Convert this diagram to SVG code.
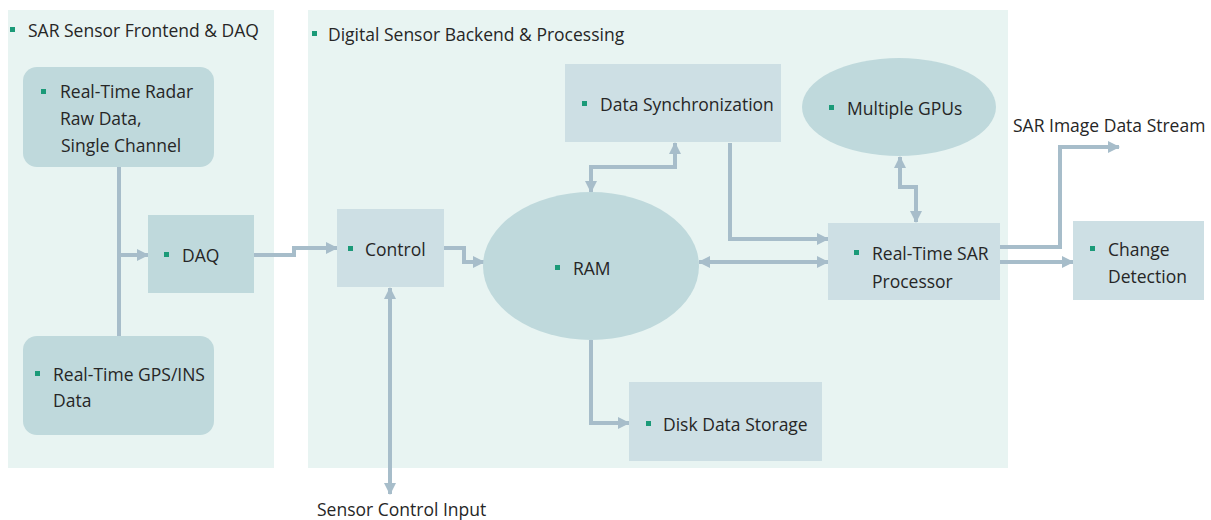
<svg xmlns="http://www.w3.org/2000/svg" width="1211" height="520" viewBox="0 0 1211 520">
  <defs>
    <style>
      .grp { fill: #e8f4f2; }
      .soft { fill: #bfd9dc; }
      .cool { fill: #cddfe4; }
      .lbl { font-family: "Open Sans", "Noto Sans", sans-serif; font-size: 17.5px; fill: #262626; }
      .dot { fill: #1b9a78; }
      .wire { fill: none; stroke: #a7bdca; stroke-width: 4; stroke-linejoin: miter; }
    </style>
    <marker id="head" viewBox="0 0 12 12" refX="11" refY="6" markerWidth="12" markerHeight="12" markerUnits="userSpaceOnUse" orient="auto-start-reverse">
      <path d="M0,0 L12,6 L0,12 Z" fill="#a7bdca"/>
    </marker>
  </defs>

  <rect width="1211" height="520" fill="#ffffff"/>

  <!-- group panels -->
  <g id="group-frontend">
    <rect class="grp" x="8" y="10" width="266" height="458"/>
    <rect class="dot" x="10" y="27" width="5" height="5"/>
    <text class="lbl" x="28" y="37">SAR Sensor Frontend &amp; DAQ</text>
  </g>
  <g id="group-backend">
    <rect class="grp" x="308" y="10" width="700" height="458"/>
    <rect class="dot" x="312" y="31" width="5" height="5"/>
    <text class="lbl" x="328" y="41">Digital Sensor Backend &amp; Processing</text>
  </g>

  <!-- connectors -->
  <g id="connectors">
    <path class="wire" d="M119,167 V336"/>
    <path class="wire" d="M119,255 H148" marker-end="url(#head)"/>
    <path class="wire" d="M254,255 H294 V248 H337" marker-end="url(#head)"/>
    <path class="wire" d="M444,248 H464 V262 H484" marker-end="url(#head)"/>
    <path class="wire" d="M390,288 V494" marker-start="url(#head)" marker-end="url(#head)"/>
    <path class="wire" d="M591,192 V167 H675 V143" marker-start="url(#head)" marker-end="url(#head)"/>
    <path class="wire" d="M730,143 V239 H828" marker-end="url(#head)"/>
    <path class="wire" d="M699,262 H828" marker-start="url(#head)" marker-end="url(#head)"/>
    <path class="wire" d="M900,157 V187 H916 V222" marker-start="url(#head)" marker-end="url(#head)"/>
    <path class="wire" d="M1000,247 H1060 V147 H1119" marker-end="url(#head)"/>
    <path class="wire" d="M1000,262 H1073" marker-end="url(#head)"/>
    <path class="wire" d="M591,340 V423 H629" marker-end="url(#head)"/>
  </g>

  <!-- nodes -->
  <g id="radar">
    <rect class="soft" x="23" y="67" width="191" height="100" rx="14"/>
    <rect class="dot" x="41" y="89" width="5" height="5"/>
    <text class="lbl" x="60" y="98">Real-Time Radar</text>
    <text class="lbl" x="60" y="125">Raw Data,</text>
    <text class="lbl" x="61" y="152">Single Channel</text>
  </g>
  <g id="gps">
    <rect class="soft" x="23" y="336" width="191" height="99" rx="14"/>
    <rect class="dot" x="35" y="371" width="5" height="5"/>
    <text class="lbl" x="53" y="381">Real-Time GPS/INS</text>
    <text class="lbl" x="53" y="407">Data</text>
  </g>
  <g id="daq">
    <rect class="soft" x="148" y="215" width="106" height="78"/>
    <rect class="dot" x="164" y="252" width="5" height="5"/>
    <text class="lbl" x="182" y="262">DAQ</text>
  </g>
  <g id="control">
    <rect class="cool" x="337" y="209" width="107" height="78"/>
    <rect class="dot" x="348" y="246" width="5" height="5"/>
    <text class="lbl" x="365" y="256">Control</text>
  </g>
  <g id="ram">
    <ellipse class="soft" cx="591" cy="266" rx="108" ry="74"/>
    <rect class="dot" x="555" y="265" width="5" height="5"/>
    <text class="lbl" x="573" y="275">RAM</text>
  </g>
  <g id="data-sync">
    <rect class="cool" x="565" y="64" width="216" height="78"/>
    <rect class="dot" x="582" y="101" width="5" height="5"/>
    <text class="lbl" x="600" y="111">Data Synchronization</text>
  </g>
  <g id="gpus">
    <ellipse class="soft" cx="899" cy="107" rx="97" ry="49"/>
    <rect class="dot" x="829" y="105" width="5" height="5"/>
    <text class="lbl" x="847" y="115">Multiple GPUs</text>
  </g>
  <g id="sar-processor">
    <rect class="cool" x="828" y="223" width="172" height="77"/>
    <rect class="dot" x="854" y="250" width="5" height="5"/>
    <text class="lbl" x="872" y="260">Real-Time SAR</text>
    <text class="lbl" x="872" y="288">Processor</text>
  </g>
  <g id="change-detection">
    <rect class="cool" x="1073" y="221" width="131" height="79"/>
    <rect class="dot" x="1090" y="246" width="5" height="5"/>
    <text class="lbl" x="1108" y="256">Change</text>
    <text class="lbl" x="1108" y="283">Detection</text>
  </g>
  <g id="disk-storage">
    <rect class="cool" x="629" y="382" width="193" height="79"/>
    <rect class="dot" x="646" y="421" width="5" height="5"/>
    <text class="lbl" x="663" y="431">Disk Data Storage</text>
  </g>

  <!-- free-standing labels -->
  <text class="lbl" x="1013" y="132">SAR Image Data Stream</text>
  <text class="lbl" x="317" y="516">Sensor Control Input</text>
</svg>
